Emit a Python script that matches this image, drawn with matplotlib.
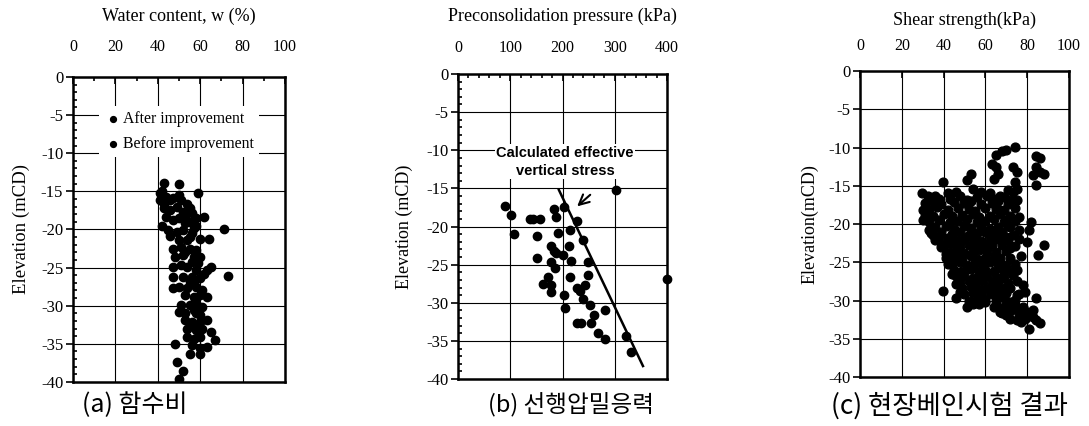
import numpy as np
import matplotlib
matplotlib.use('Agg')
from matplotlib import pyplot as plt
from matplotlib.ticker import MultipleLocator

# (a) water content (%), elevation (mCD)
water_before = [(43, -13.85), (41, -15.2), (42, -15.0), (44, -15.7), (46, -16.1), (47, -15.9),
                (41, -16.1), (43, -16.6), (43, -17.2), (46, -17.4), (44, -18.3), (47, -18.8),
                (42, -19.6), (45, -20.1), (46, -20.9), (47, -22.5), (48, -23.6), (47, -24.9),
                (47, -26.2), (47, -27.7), (48, -35.0), (49, -37.4), (52, -38.5), (50, -39.6)]
water_after = [(50, -14.1), (59, -15.2), (50, -15.5), (51, -16.1), (54, -16.6), (55, -17.2),
               (49, -17.0), (52, -17.7), (56, -17.9), (58, -18.5), (62, -18.3), (50, -18.5),
               (53, -19.2), (55, -19.0), (58, -19.6), (49, -20.3), (52, -20.1), (56, -20.5),
               (71, -20.0), (50, -21.4), (54, -21.4), (60, -21.3), (64, -21.3), (51, -22.3),
               (55, -22.5), (58, -22.7), (52, -23.4), (57, -23.6), (60, -23.6), (51, -24.7),
               (54, -24.9), (58, -25.3), (65, -24.9), (62, -25.8), (63, -25.3), (52, -26.2),
               (56, -26.2), (60, -26.4), (73, -26.1), (50, -27.5), (54, -27.7), (58, -27.5),
               (61, -28.0), (53, -28.6), (57, -28.8), (60, -28.6), (63, -28.8), (51, -29.9),
               (55, -29.9), (58, -29.7), (61, -30.1), (50, -30.8), (53, -31.0), (58, -31.0),
               (60, -31.2), (53, -31.9), (56, -32.1), (60, -32.1), (63, -31.9), (54, -33.0),
               (58, -33.2), (61, -33.0), (65, -33.4), (54, -34.1), (57, -34.3), (60, -34.1),
               (67, -34.5), (56, -35.2), (60, -35.6), (63, -35.4), (55, -36.3), (60, -36.3),
               (53, -18.2), (55, -21.0), (53, -23.0), (56, -24.2), (55, -26.9), (58, -29.0),
               (57, -30.5), (55, -32.6), (59, -32.7), (57, -27.0), (59, -24.4), (57, -19.8)]

# (b) preconsolidation pressure (kPa), elevation (mCD)
pc_points = [(89, -17.3), (101, -18.5), (108, -21.0), (137, -19.0), (144, -19.0), (156, -19.0),
             (152, -21.2), (152, -24.1), (184, -17.7), (188, -18.7), (202, -17.5), (191, -20.8),
             (178, -22.5), (183, -23.2), (188, -23.5), (201, -23.7), (177, -24.6), (185, -25.4),
             (172, -26.6), (178, -27.7), (163, -27.6), (177, -28.6), (202, -29.0), (204, -30.7),
             (215, -20.5), (213, -22.5), (216, -24.5), (215, -26.6), (227, -19.3), (240, -21.8),
             (249, -24.7), (249, -26.4), (227, -28.0), (233, -28.5), (243, -27.7), (239, -29.5),
             (253, -30.3), (260, -31.6), (255, -32.7), (228, -32.6), (236, -32.6), (281, -31.0),
             (267, -34.0), (282, -34.7), (321, -34.4), (332, -36.4), (302, -15.2), (400, -26.9)]
stress_line = [(193, -15.2), (354, -38.3)]

# (c) field vane shear strength (kPa), elevation (mCD)
vane_upper = [(74, -9.9), (70, -10.3), (68, -10.5), (65, -11.0), (84, -11.1), (86, -11.4),
              (63, -12.2), (65, -12.5), (73, -12.5), (66, -13.4), (75, -13.2), (84, -12.5),
              (83, -13.6), (88, -13.5), (64, -14.1), (74, -14.5), (84, -14.9), (75, -15.4),
              (73, -15.8), (71, -15.6), (75, -16.8), (53, -13.4), (51, -14.3), (86, -13.2)]
vane_edge = [(39.5, -14.5), (29.5, -15.9), (32.6, -16.4), (38, -16.7), (42, -16.0), (46, -15.8),
             (54, -15.4), (58, -15.8), (62, -16.0), (67, -16.4), (72, -16.9), (30, -18.2),
             (30, -19.5), (33, -20.8), (35, -21.5), (36, -22.1), (39, -23.0), (41, -23.9),
             (42, -25.2), (44, -26.5), (46, -27.8), (48, -28.9), (39.5, -28.7), (46, -29.7),
             (51, -30.8), (54, -30.4), (57, -30.4), (60, -30.2), (67, -18.2), (70, -19.5),
             (72, -20.4), (76, -20.8), (76, -19.1), (82, -19.8), (81, -20.8), (80, -22.3),
             (88, -22.7), (85, -24.1), (70, -21.7), (72, -23.2), (74, -25.2), (75, -26.0),
             (78, -28.0), (79, -28.9), (84, -29.7), (64, -30.8), (67, -31.5), (70, -31.9),
             (72, -32.4), (75, -32.6), (79, -32.4), (80, -31.9), (83, -32.2), (84, -32.6),
             (86, -33.0), (81, -33.7), (77, -32.8), (74, -31.1), (78, -31.3), (72, -30.2),
             (69, -29.5), (75, -29.3), (67, -28.7), (71, -28.3), (64, -27.8), (68, -27.1)]
vane_core = [(33, -16.5), (36, -16.3), (43, -16.7), (48, -16.4), (51, -16.8), (56, -16.5),
             (61, -16.3), (64, -16.7), (69, -16.5), (31, -17.3), (35, -17.0), (39, -17.4),
             (45, -17.1), (50, -17.3), (53, -17.0), (58, -17.4), (63, -17.2), (66, -17.0),
             (71, -17.4), (33, -18.1), (37, -17.8), (42, -18.2), (47, -17.9), (52, -18.0),
             (55, -18.3), (60, -17.9), (65, -18.1), (69, -18.2), (74, -17.9), (31, -18.9),
             (35, -19.0), (40, -18.7), (44, -19.0), (49, -18.8), (54, -18.7), (57, -19.1),
             (62, -18.9), (67, -18.7), (72, -19.0), (33, -19.7), (38, -19.5), (43, -19.8),
             (47, -19.6), (51, -19.4), (56, -19.7), (60, -19.6), (64, -19.4), (69, -19.8),
             (74, -19.6), (36, -20.4), (41, -20.2), (45, -20.6), (50, -20.3), (53, -20.5),
             (58, -20.3), (62, -20.6), (66, -20.4), (71, -20.2), (34, -21.2), (39, -21.0),
             (44, -21.3), (48, -21.1), (52, -21.4), (56, -21.2), (60, -21.0), (64, -21.3),
             (68, -21.1), (73, -21.4), (38, -22.0), (42, -21.8), (46, -22.1), (50, -22.0),
             (54, -21.8), (58, -22.2), (62, -22.0), (66, -21.9), (71, -22.1), (76, -22.0),
             (40, -22.8), (44, -22.6), (48, -22.9), (52, -22.7), (56, -22.9), (60, -22.6),
             (63, -22.8), (68, -22.7), (74, -22.9), (42, -23.6), (46, -23.5), (50, -23.8),
             (54, -23.6), (57, -23.4), (61, -23.7), (65, -23.6), (70, -23.5), (41, -24.4),
             (45, -24.3), (49, -24.5), (53, -24.2), (56, -24.6), (60, -24.4), (64, -24.3),
             (67, -24.5), (72, -24.4), (77, -24.2), (44, -25.2), (48, -25.0), (51, -25.3),
             (55, -25.1), (59, -25.3), (62, -25.0), (66, -25.2), (70, -25.4), (45, -26.0),
             (49, -26.1), (53, -25.9), (57, -26.2), (60, -26.0), (64, -26.1), (68, -25.9),
             (72, -26.2), (46, -26.8), (50, -26.7), (54, -27.0), (58, -26.8), (61, -26.6),
             (65, -26.9), (69, -26.8), (73, -26.7), (48, -27.6), (52, -27.4), (55, -27.7),
             (59, -27.5), (63, -27.6), (66, -27.4), (71, -27.7), (75, -27.5), (49, -28.4),
             (53, -28.2), (57, -28.5), (61, -28.3), (64, -28.5), (68, -28.3), (72, -28.4),
             (50, -29.2), (54, -29.0), (58, -29.3), (62, -29.1), (66, -29.3), (70, -29.0),
             (76, -29.2), (52, -30.0), (56, -29.9), (60, -30.1), (65, -30.0), (70, -30.2),
             (74, -29.9), (66, -30.8), (70, -30.9), (74, -30.6), (78, -30.8), (68, -31.6),
             (72, -31.4), (76, -31.7), (80, -31.5), (83, -31.3)]

captions = ['(a) 함수비', '(b) 선행압밀응력', '(c) 현장베인시험 결과']

plt.rcParams['font.family'] = ['Liberation Serif', 'DejaVu Serif']
plt.rcParams['axes.unicode_minus'] = False
kr_font = ['Noto Sans CJK KR', 'DejaVu Sans']


def setup_axes(ax, xmax, xstep, xminor, xlabel, ylabel, minor=True, ysize=13, xpad=15, tpad=12, ypad=5):
    ax.set_xlim(0, xmax)
    ax.set_ylim(-40, 0)
    ax.xaxis.tick_top()
    ax.xaxis.set_label_position('top')
    ax.xaxis.set_major_locator(MultipleLocator(xstep))
    ax.yaxis.set_major_locator(MultipleLocator(5))
    if minor:
        ax.xaxis.set_minor_locator(MultipleLocator(xminor))
        ax.yaxis.set_minor_locator(MultipleLocator(1))
    ax.tick_params(axis='x', which='major', direction='in', length=5, width=1.2, pad=xpad, labelsize=11.5)
    ax.tick_params(axis='x', which='minor', direction='in', length=3, width=1.2)
    ax.tick_params(axis='y', which='major', direction='out', length=5, width=1.2, pad=2, labelsize=12)
    ax.tick_params(axis='y', which='minor', direction='in', length=3, width=1.2)
    ax.set_xlabel(xlabel, fontsize=13, labelpad=tpad)
    ax.set_ylabel(ylabel, fontsize=ysize, labelpad=ypad)
    ax.grid(True, which='major', color='black', linewidth=0.8)
    ax.set_axisbelow(True)
    for sp in ax.spines.values():
        sp.set_linewidth(1.8)


fig = plt.figure(figsize=(10.89, 4.26), dpi=100)
ax1 = fig.add_axes([0.0670, 0.1033, 0.1947, 0.7160])
ax2 = fig.add_axes([0.4206, 0.1103, 0.1919, 0.7160])
ax3 = fig.add_axes([0.7897, 0.1150, 0.1919, 0.7183])

# (a)
setup_axes(ax1, 100, 20, 10, 'Water content, w (%)', 'Elevation (mCD)', ysize=13.5,
           xpad=16, tpad=13, ypad=8)
wa = np.array(water_after)
wb = np.array(water_before)
ax1.scatter(wa[:, 0], wa[:, 1], s=36, color='black', zorder=3, label='After improvement')
ax1.scatter(wb[:, 0], wb[:, 1], s=36, color='black', zorder=3, label='Before improvement')
leg = ax1.legend(loc='upper left', bbox_to_anchor=(0.085, 0.93), frameon=True, fontsize=11.3,
                 handletextpad=0.05, labelspacing=0.6, borderpad=0.3, handlelength=1.2,
                 scatterpoints=1, markerscale=0.7)
leg.get_frame().set_edgecolor('none')
leg.get_frame().set_facecolor('white')
leg.get_frame().set_alpha(1)

# (b)
setup_axes(ax2, 400, 100, 20, 'Preconsolidation pressure (kPa)', 'Elevation (mCD)',
           xpad=13, tpad=14, ypad=9)
pc = np.array(pc_points)
ax2.scatter(pc[:, 0], pc[:, 1], s=36, color='black', zorder=3, clip_on=False)
sl = np.array(stress_line)
ax2.plot(sl[:, 0], sl[:, 1], color='black', linewidth=1.8, zorder=3)
ax2.text(205, -11.5, 'Calculated effective\nvertical stress', ha='center', va='center',
         fontsize=10.5, weight='bold', family=['Liberation Sans', 'DejaVu Sans'], linespacing=1.35,
         bbox=dict(facecolor='white', edgecolor='none', pad=1), zorder=4)
ax2.annotate('', xy=(224, -17.6), xytext=(257, -15.6),
             arrowprops=dict(arrowstyle='->', color='black', lw=1.5, mutation_scale=18), zorder=4)

# (c)
setup_axes(ax3, 100, 20, 10, 'Shear strength(kPa)', 'Elevation(mCD)', minor=False,
           xpad=12, tpad=10, ypad=7)
for grp in [vane_upper, vane_edge, vane_core]:
    g = np.array(grp)
    ax3.scatter(g[:, 0], g[:, 1], s=40, color='black', zorder=3)

# captions under each panel
for xc, cap, fs in zip([0.124, 0.524, 0.872], captions, [18, 17, 19]):
    fig.text(xc, 0.048, cap, ha='center', va='center', fontsize=fs, family=kr_font)

fig.savefig('out.png', dpi=100)
